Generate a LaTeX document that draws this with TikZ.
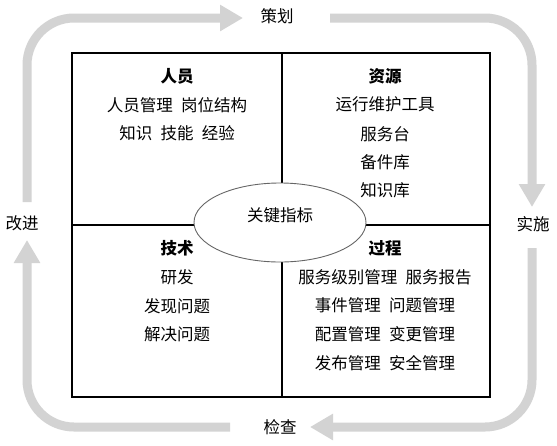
\documentclass[tikz,border=0pt]{standalone}
\usepackage{fontspec}
\setmainfont{Noto Sans CJK SC}
\usetikzlibrary{arrows.meta,shapes.geometric}
\definecolor{loopgray}{RGB}{211,211,211}
\begin{document}
\begin{tikzpicture}[x=1pt,y=-1pt,
  every node/.style={font=\fontsize{16.5pt}{20pt}\selectfont, inner sep=0pt},
  title/.style={font=\fontsize{16.5pt}{20pt}\selectfont\bfseries},
  loopline/.style={draw=loopgray, line width=9pt, rounded corners=47pt, -{Triangle[width=25pt,length=23pt]}},
  frame/.style={draw=black, line width=1.2pt},
  kpishape/.style={ellipse, draw=black!60, line width=0.9pt, fill=white, minimum width=172pt, minimum height=79pt, inner sep=0pt}]
\useasboundingbox (0,0) rectangle (557,445);
% outer cycle labels
\node (plan) at (277,16) {策划};
\node (do) at (533,224) {实施};
\node (check) at (280,427) {检查};
\node (improve) at (22,223) {改进};
% cycle arrow ends
\coordinate (s1) at (27,202);  \coordinate (e1) at (243,18);
\coordinate (s2) at (330,18);  \coordinate (e2) at (532,207);
\coordinate (s3) at (532,248); \coordinate (e3) at (310,427);
\coordinate (s4) at (230,427); \coordinate (e4) at (27,240);
\draw[loopline] (s1) |- (e1);
\draw[loopline] (s2) -| (e2);
\draw[loopline] (s3) |- (e3);
\draw[loopline] (s4) -| (e4);
% frame
\coordinate (tl) at (72,53);
\coordinate (br) at (490,397);
\coordinate (tm) at (282,53);
\coordinate (bm) at (282,397);
\coordinate (ml) at (72,225);
\coordinate (mr) at (490,225);
\draw[frame] (tl) rectangle (br);
\draw[frame] (tm) -- (bm);
\draw[frame] (ml) -- (mr);
% key indicator
\node[kpishape] (kpi) at (280,222.5) {};
\node (kpilabel) at (280,215) {关键指标};
% people
\node[title] (people) at (177,76) {人员};
\node (p1) at (177,105) {人员管理\hspace{0.5em}岗位结构};
\node (p2) at (177,133) {知识\hspace{0.5em}技能\hspace{0.5em}经验};
% resources
\node[title] (res) at (385,76) {资源};
\node (r1) at (385,104) {运行维护工具};
\node (r2) at (385,134) {服务台};
\node (r3) at (385,162) {备件库};
\node (r4) at (385,190) {知识库};
% technology
\node[title] (tech) at (177,248) {技术};
\node (t1) at (177,277) {研发};
\node (t2) at (177,306) {发现问题};
\node (t3) at (177,334) {解决问题};
% process
\node[title] (proc) at (385,248) {过程};
\node (c1) at (385,277) {服务级别管理\hspace{0.5em}服务报告};
\node (c2) at (385,305) {事件管理\hspace{0.5em}问题管理};
\node (c3) at (385,334) {配置管理\hspace{0.5em}变更管理};
\node (c4) at (385,363) {发布管理\hspace{0.5em}安全管理};
\end{tikzpicture}
\end{document}
